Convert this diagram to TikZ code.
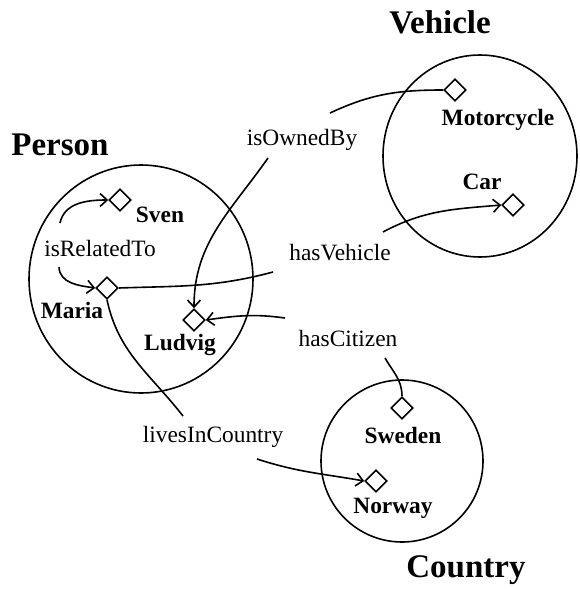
\documentclass[tikz,border=0pt]{standalone}
\usepackage{fontspec}
\setmainfont{Liberation Serif}
\usetikzlibrary{shapes.geometric,arrows.meta}
\begin{document}
\begin{tikzpicture}[x=1pt,y=-1pt,line width=1.6pt,
  inst/.style={diamond,draw,minimum size=22pt,inner sep=0pt},
  iname/.style={inner sep=0pt,font=\fontsize{23.4}{28}\selectfont\bfseries},
  rname/.style={inner sep=0pt,font=\fontsize{23.4}{28}\selectfont},
  cname/.style={inner sep=0pt,font=\fontsize{33}{40}\selectfont\bfseries},
  cls/.style={draw},
  link/.style={-{Straight Barb[length=7pt,width=13pt]}}]
\useasboundingbox (0,0) rectangle (579,589);

% classes
\draw[cls] (141,279) ellipse [x radius=112, y radius=114];
\draw[cls] (480,156) ellipse [x radius=97, y radius=101];
\draw[cls] (402,461) ellipse [x radius=81, y radius=81];
\node[cname] (person) at (60,145) {Person};
\node[cname] (vehicle) at (440,22) {Vehicle};
\node[cname] (country) at (466,570) {Country};

% instances
\node[inst] (sven) at (120,200) {};
\node[inst] (maria) at (107,288) {};
\node[inst] (ludvig) at (194,320) {};
\node[inst] (moto) at (455,90) {};
\node[inst] (car) at (513,205) {};
\node[inst] (sweden) at (402,408) {};
\node[inst] (norway) at (376,481) {};

\node[iname] (svenl) at (160,215) {Sven};
\node[iname] (marial) at (72,310) {Maria};
\node[iname] (ludvigl) at (180,345) {Ludvig};
\node[iname] (motol) at (498,120) {Motorcycle};
\node[iname] (carl) at (482,182) {Car};
\node[iname] (swedenl) at (403,435) {Sweden};
\node[iname] (norwayl) at (393,508) {Norway};

% relations
\node[rname] (rel) at (100,248) {isRelatedTo};
\node[rname] (own) at (302,140) {isOwnedBy};
\node[rname] (hasv) at (340,253) {hasVehicle};
\node[rname] (hasc) at (348,338) {hasCitizen};
\node[rname] (lives) at (213,437) {livesInCountry};

% connector ends next to the relation names
\coordinate (relU) at (60,223);
\coordinate (relD) at (59,267);
\coordinate (ownU) at (330,113);
\coordinate (ownD) at (268,158);
\coordinate (hasvL) at (273,272);
\coordinate (hasvR) at (383,232);
\coordinate (hascL) at (285,318);
\coordinate (hascD) at (385,358);
\coordinate (livesU) at (183,416);
\coordinate (livesR) at (257,459);

\draw[link] (relU) to[out=78,in=180] (sven.west);
\draw[link] (relD) to[out=-88,in=172] (maria.west);
\draw (maria.east) to[out=2,in=-165] (hasvL);
\draw[link] (hasvR) to[out=28,in=185] (car.west);
\draw (ownU) to[out=25,in=180] (moto.west);
\draw[link] (ownD) to[out=-125,in=90] (ludvig.north);
\draw[link] (hascL) to[out=172,in=8] (ludvig.east);
\draw (hascD) to[out=-60,in=90] (sweden.north);
\draw (maria.south) to[out=-78,in=128] (livesU);
\draw[link] (livesR) to[out=-18,in=170] (norway.west);
\end{tikzpicture}
\end{document}
